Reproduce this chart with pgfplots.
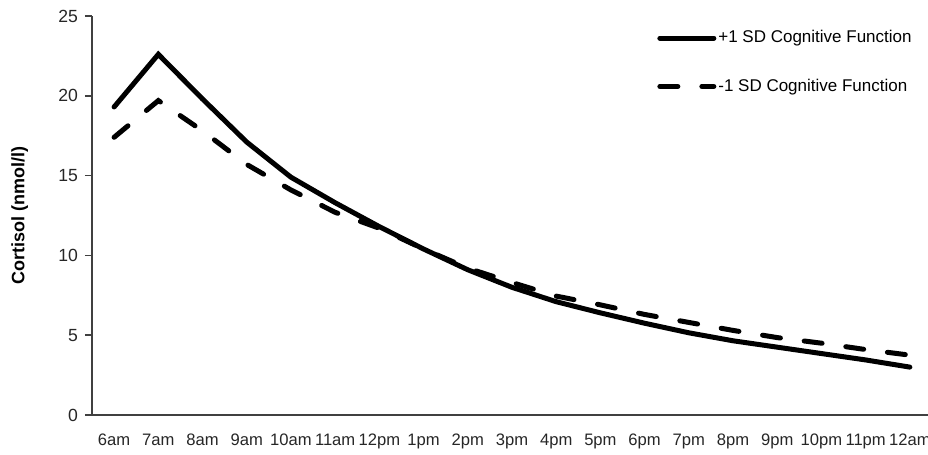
\documentclass[border=0pt]{standalone}
\usepackage{fontspec}
\setmainfont{Liberation Sans}
\usepackage{pgfplots}
\pgfplotsset{compat=1.18}

\pgfplotstableread{
x  hi    lo
0  19.3  17.4
1  22.6  19.7
2  19.8  17.8
3  17.1  15.7
4  14.9  14.1
5  13.3  12.7
6  11.8  11.7
7  10.4  10.4
8  9.1   9.2
9  8.0   8.3
10 7.1   7.45
11 6.4   6.9
12 5.75  6.3
13 5.15  5.8
14 4.65  5.3
15 4.25  4.85
16 3.85  4.5
17 3.45  4.1
18 3.0   3.75
}\cortisol

\begin{document}
\begin{tikzpicture}
  \begin{axis}[scale only axis, width=418pt, height=199.5pt,
    xmin=-0.5, xmax=18.41, ymin=0, ymax=25,
    axis lines*=left,
    axis line style={black!75, line width=0.8pt},
    xtick={0,...,18},
    xticklabels={6am,7am,8am,9am,10am,11am,12pm,1pm,2pm,3pm,4pm,5pm,6pm,7pm,8pm,9pm,10pm,11pm,12am},
    xtick style={draw=none},
    minor xtick={-0.5,0.5,...,17.5},
    minor tick length=3.5pt,
    major tick length=3.5pt,
    tick align=outside,
    tick style={black!75, line width=0.8pt},
    ytick={0,5,...,25},
    tick label style={font=\fontsize{8.3}{9}\selectfont, text=black!85},
    yticklabel style={font=\fontsize{8.8}{9}\selectfont},
    xticklabel style={yshift=-2.5pt},
    /pgf/number format/assume math mode=true,
    ylabel={Cortisol (nmol/l)},
    ylabel style={font=\fontsize{9}{10}\selectfont\bfseries, at={(axis description cs:-0.068,0.5)}, anchor=south},
    legend cell align=left,
    legend style={draw=none, fill=none, at={(1,1)}, anchor=north east,
      xshift=-7pt, yshift=-6pt, inner sep=0pt, row sep=14.5pt,
      font=\fontsize{8.5}{9}\selectfont, nodes={inner sep=1pt}},
    legend image code/.code={\draw[#1] (0pt,0pt) -- (27pt,0pt);},
    every axis plot/.append style={line width=2.5pt, line cap=round, line join=miter}]
    \coordinate (o) at (rel axis cs:0,0);
    \addplot[black] table[x=x, y=hi] {\cortisol};
    \addplot[black, dash pattern=on 9pt off 12pt] table[x=x, y=lo] {\cortisol};
    \legend{+1 SD Cognitive Function, -1 SD Cognitive Function}
  \end{axis}
  \pgfresetboundingbox
  \path (o) ++(-46pt,-20pt) rectangle ++(464pt,227.5pt);
\end{tikzpicture}
\end{document}
